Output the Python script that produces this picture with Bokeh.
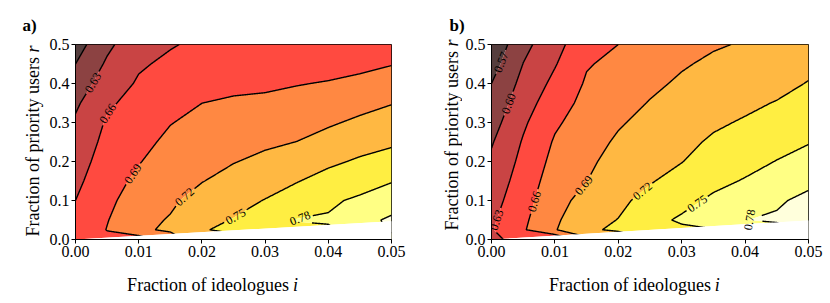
import math
import numpy as np
import contourpy
from bokeh.plotting import figure
from bokeh.layouts import row, column
from bokeh.models import FixedTicker, Range1d, ColumnDataSource
from bokeh.embed import file_html
from bokeh.resources import INLINE
from bokeh.core.properties import value

# ---------------- data ----------------
ideologues = [0.000, 0.005, 0.010, 0.015, 0.020, 0.025, 0.030, 0.035, 0.040, 0.045, 0.050]
priority = [0.000, 0.025, 0.050, 0.100, 0.150, 0.200, 0.250, 0.300, 0.350, 0.400, 0.450, 0.500]

# rows follow `priority`, columns follow `ideologues`
quality_a = [
    [0.668, 0.682, 0.673, 0.705, 0.740, 0.745, 0.755, 0.760, 0.765, 0.780, 0.800],
    [0.666, 0.691, 0.715, 0.7245, 0.749, 0.753, 0.766, 0.775, 0.7768, 0.790, 0.815],
    [0.664, 0.6887, 0.712, 0.722, 0.7428, 0.7512, 0.763, 0.781, 0.7825, 0.800, 0.815],
    [0.660, 0.6836, 0.704, 0.7155, 0.7304, 0.741, 0.751, 0.764, 0.7759, 0.7842, 0.7947],
    [0.6535, 0.6784, 0.696, 0.709, 0.719, 0.7297, 0.7387, 0.7486, 0.7603, 0.7694, 0.7786],
    [0.647, 0.6733, 0.6886, 0.7024, 0.7116, 0.7188, 0.7264, 0.7344, 0.7447, 0.7537, 0.7614],
    [0.6405, 0.6682, 0.6822, 0.6958, 0.7044, 0.7103, 0.7153, 0.7203, 0.7303, 0.7389, 0.7455],
    [0.634, 0.6631, 0.6758, 0.689, 0.697, 0.7018, 0.7046, 0.7097, 0.7164, 0.7251, 0.7322],
    [0.6252, 0.6557, 0.6695, 0.6811, 0.6899, 0.6931, 0.6945, 0.6992, 0.704, 0.711, 0.7188],
    [0.6126, 0.645, 0.6631, 0.6731, 0.6826, 0.6845, 0.686, 0.6887, 0.6917, 0.697, 0.7038],
    [0.600, 0.6343, 0.6567, 0.6652, 0.6755, 0.676, 0.678, 0.680, 0.680, 0.683, 0.6888],
    [0.587, 0.6236, 0.650, 0.658, 0.665, 0.668, 0.670, 0.672, 0.672, 0.673, 0.674],
]

quality_b = [
    [0.627, 0.635, 0.630, 0.680, 0.700, 0.720, 0.730, 0.740, 0.750, 0.760, 0.780],
    [0.628, 0.657, 0.688, 0.716, 0.724, 0.745, 0.745, 0.748, 0.765, 0.770, 0.790],
    [0.6254, 0.6545, 0.6852, 0.7107, 0.7207, 0.742, 0.7537, 0.770, 0.7795, 0.7835, 0.800],
    [0.6186, 0.649, 0.6797, 0.700, 0.714, 0.7288, 0.742, 0.7547, 0.7673, 0.7764, 0.7868],
    [0.6118, 0.6435, 0.6741, 0.6896, 0.7073, 0.7179, 0.7303, 0.7432, 0.7519, 0.7636, 0.7737],
    [0.605, 0.638, 0.6685, 0.6843, 0.7006, 0.7112, 0.7192, 0.7335, 0.7415, 0.7508, 0.7613],
    [0.5976, 0.6325, 0.663, 0.679, 0.6939, 0.7046, 0.7129, 0.7239, 0.7321, 0.7408, 0.7484],
    [0.5884, 0.6255, 0.6557, 0.6737, 0.6872, 0.698, 0.7065, 0.7158, 0.7227, 0.7311, 0.7394],
    [0.5792, 0.6172, 0.6465, 0.6685, 0.6804, 0.6913, 0.7002, 0.7087, 0.7143, 0.7214, 0.7304],
    [0.570, 0.6088, 0.6372, 0.6632, 0.6736, 0.6847, 0.6938, 0.7016, 0.706, 0.7114, 0.7214],
    [0.558, 0.6005, 0.628, 0.6579, 0.6668, 0.678, 0.6875, 0.6945, 0.6985, 0.7019, 0.7124],
    [0.547, 0.592, 0.6187, 0.6526, 0.660, 0.671, 0.681, 0.6875, 0.692, 0.695, 0.703],
]

levels_a = [0.60, 0.63, 0.66, 0.69, 0.72, 0.75, 0.78, 0.81]
levels_b = [0.57, 0.60, 0.63, 0.66, 0.69, 0.72, 0.75, 0.78]
labelled_a = [0.63, 0.66, 0.69, 0.72, 0.75, 0.78]
labelled_b = [0.57, 0.60, 0.63, 0.66, 0.69, 0.72, 0.75, 0.78]

# region without data (r below a line from the origin)
mask_i = [0.0, 0.05]
mask_r_a = [0.0, 0.047]
mask_r_b = [0.0, 0.049]

x_ticks = [0.00, 0.01, 0.02, 0.03, 0.04, 0.05]
x_tick_labels = ["0.00", "0.01", "0.02", "0.03", "0.04", "0.05"]
y_ticks = [0.0, 0.1, 0.2, 0.3, 0.4, 0.5]
y_tick_labels = ["0.0", "0.1", "0.2", "0.3", "0.4", "0.5"]

# ---------------- styling / layout ----------------
band_colors = ["#553e3e", "#8c4242", "#c94444", "#ff4a40", "#ff8842",
               "#ffb842", "#ffee42", "#ffff84", "#ffffdc"]
FONT = "Liberation Serif"
FRAME_H = 195
STRIP_H = 36     # strip holding the panel tag
MAIN_H = 229     # main plot (8 top + 195 frame + 26 bottom)
XLAB_H = 38      # strip holding the x title

# approximate centres of the inline contour labels
label_spots_a = [(0.0025, 0.404), (0.005, 0.324), (0.009, 0.17),
                 (0.0173, 0.108), (0.0252, 0.062), (0.0355, 0.058)]
label_spots_b = [(0.0014, 0.455), (0.0023, 0.352), (0.0013, 0.047), (0.007, 0.096),
                 (0.0147, 0.138), (0.024, 0.121), (0.0326, 0.089), (0.0405, 0.058)]


def densify(seg, sx, sy):
    pts = [seg[0]]
    for k in range(1, len(seg)):
        p0, p1 = seg[k - 1], seg[k]
        d = math.hypot((p1[0] - p0[0]) * sx, (p1[1] - p0[1]) * sy)
        n = max(1, int(math.ceil(d / 0.5)))
        for t in range(1, n + 1):
            pts.append(p0 + (p1 - p0) * t / n)
    return np.array(pts)


def text_fig(w, h):
    f = figure(width=w, height=h, x_range=Range1d(0, w), y_range=Range1d(0, h),
               x_axis_type=None, y_axis_type=None,
               min_border_left=0, min_border_right=0, min_border_top=0, min_border_bottom=0,
               output_backend="svg", toolbar_location=None)
    f.outline_line_color = None
    f.background_fill_color = "white"
    f.border_fill_color = "white"
    return f


def main_fig(zvals, levels, labelled, spots, mask_r, fw, bl, br):
    p = figure(frame_width=fw, frame_height=FRAME_H,
               min_border_left=bl, min_border_right=br,
               min_border_top=MAIN_H - FRAME_H - 26, min_border_bottom=26,
               x_range=Range1d(0, 0.05), y_range=Range1d(0, 0.5),
               output_backend="svg", toolbar_location=None)
    X = np.array(ideologues)
    Y = np.array(priority)
    Z = np.array(zvals)
    p.contour(X, Y, Z, [0.0] + levels + [1.0], fill_color=band_colors)
    p.patch(x=mask_i + [mask_i[-1]], y=mask_r + [mask_r[0]],
            fill_color="white", line_color=None)

    sx = fw / 0.05
    sy = FRAME_H / 0.5
    gen = contourpy.contour_generator(X, Y, Z)
    dense = {}
    for lev in levels:
        dense[lev] = [densify(np.asarray(s), sx, sy) for s in gen.lines(lev) if len(s) > 1]

    lab_x, lab_y, lab_t, lab_a = [], [], [], []
    gaps = {lev: [] for lev in levels}
    for lev, (tx, ty) in zip(labelled, spots):
        best = None
        for si, pts in enumerate(dense[lev]):
            d = np.hypot((pts[:, 0] - tx) * sx, (pts[:, 1] - ty) * sy)
            k = int(np.argmin(d))
            if best is None or d[k] < best[0]:
                best = (d[k], si, k)
        if best is None:
            continue
        _, si, k = best
        pts = dense[lev][si]
        cx, cy = pts[k]
        k0 = max(0, k - 16)
        k1 = min(len(pts) - 1, k + 16)
        ang = math.atan2((pts[k1, 1] - pts[k0, 1]) * sy, (pts[k1, 0] - pts[k0, 0]) * sx)
        if ang > math.pi / 2:
            ang -= math.pi
        if ang < -math.pi / 2:
            ang += math.pi
        lab_x.append(cx)
        lab_y.append(cy)
        lab_t.append(f"{lev:.2f}")
        lab_a.append(ang)
        gaps[lev].append((cx, cy, 12.5))

    xs, ys = [], []
    for lev in levels:
        for pts in dense[lev]:
            keep = np.ones(len(pts), bool)
            for (cx, cy, rad) in gaps[lev]:
                keep &= np.hypot((pts[:, 0] - cx) * sx, (pts[:, 1] - cy) * sy) > rad
            cur = []
            for pt, kp in zip(pts, keep):
                if kp:
                    cur.append(pt)
                else:
                    if len(cur) > 1:
                        arr = np.array(cur)
                        xs.append(list(arr[:, 0]))
                        ys.append(list(arr[:, 1]))
                    cur = []
            if len(cur) > 1:
                arr = np.array(cur)
                xs.append(list(arr[:, 0]))
                ys.append(list(arr[:, 1]))
    p.multi_line(xs=xs, ys=ys, line_color="black", line_width=1.4)
    p.patch(x=mask_i + [mask_i[-1]], y=mask_r + [mask_r[0]],
            fill_color="white", line_color=None)

    src = ColumnDataSource(dict(x=lab_x, y=lab_y, text=lab_t, angle=lab_a))
    p.text(x="x", y="y", text="text", angle="angle", source=src,
           text_align="center", text_baseline="middle",
           text_font=value(FONT), text_font_size="12px", text_color="black")

    p.xgrid.visible = False
    p.ygrid.visible = False
    p.outline_line_color = "black"
    p.outline_line_width = 1
    p.outline_line_alpha = 1
    for ax, ticks, labs in ((p.xaxis, x_ticks, x_tick_labels), (p.yaxis, y_ticks, y_tick_labels)):
        ax.ticker = FixedTicker(ticks=ticks)
        ax.major_label_overrides = {t: s for t, s in zip(ticks, labs)}
        ax.axis_line_color = "black"
        ax.axis_line_width = 1
        ax.major_tick_line_color = "black"
        ax.major_tick_out = 4
        ax.major_tick_in = 0
        ax.minor_tick_line_color = None
        ax.major_label_text_font = FONT
        ax.major_label_text_font_size = "16px"
        ax.major_label_text_color = "black"
        ax.major_label_standoff = 2
    return p


def panel(tag, zvals, levels, labelled, spots, mask_r, left_w, fw, bl, br,
          tag_x, ylab_x, ylab_end, xlab_end):
    total_w = left_w + bl + fw + br
    strip = text_fig(total_w, STRIP_H)
    strip.text(x=[tag_x], y=[11.5], text=[tag], text_align="left", text_baseline="alphabetic",
               text_font=value(FONT), text_font_style="bold", text_font_size="17px",
               text_color="black")

    left = text_fig(left_w, MAIN_H + XLAB_H)
    left.text(x=[ylab_x], y=[ylab_end], text=["Fraction of priority users"], angle=[math.pi / 2],
              text_align="right", text_baseline="alphabetic",
              text_font=value(FONT), text_font_size="18px", text_color="black")
    left.text(x=[ylab_x], y=[ylab_end + 4.5], text=["r"], angle=[math.pi / 2],
              text_align="left", text_baseline="alphabetic", text_font_style="italic",
              text_font=value(FONT), text_font_size="18px", text_color="black")

    main = main_fig(zvals, levels, labelled, spots, mask_r, fw, bl, br)

    xlab = text_fig(bl + fw + br, XLAB_H)
    xlab.text(x=[xlab_end], y=[19], text=["Fraction of ideologues"],
              text_align="right", text_baseline="alphabetic",
              text_font=value(FONT), text_font_size="18px", text_color="black")
    xlab.text(x=[xlab_end + 4.5], y=[19], text=["i"],
              text_align="left", text_baseline="alphabetic", text_font_style="italic",
              text_font=value(FONT), text_font_size="18px", text_color="black")

    return column(strip, row(left, column(main, xlab)))


pa = panel("a)", quality_a, levels_a, labelled_a, label_spots_a, mask_r_a,
           46, 316, 27, 26, 22, 32, 246.5, 251)
pb = panel("b)", quality_b, levels_b, labelled_b, label_spots_b, mask_r_b,
           45, 317, 28, 25, 32, 34, 252.5, 257)

layout = row(pa, pb)
open("out.html", "w").write(file_html(layout, INLINE))
